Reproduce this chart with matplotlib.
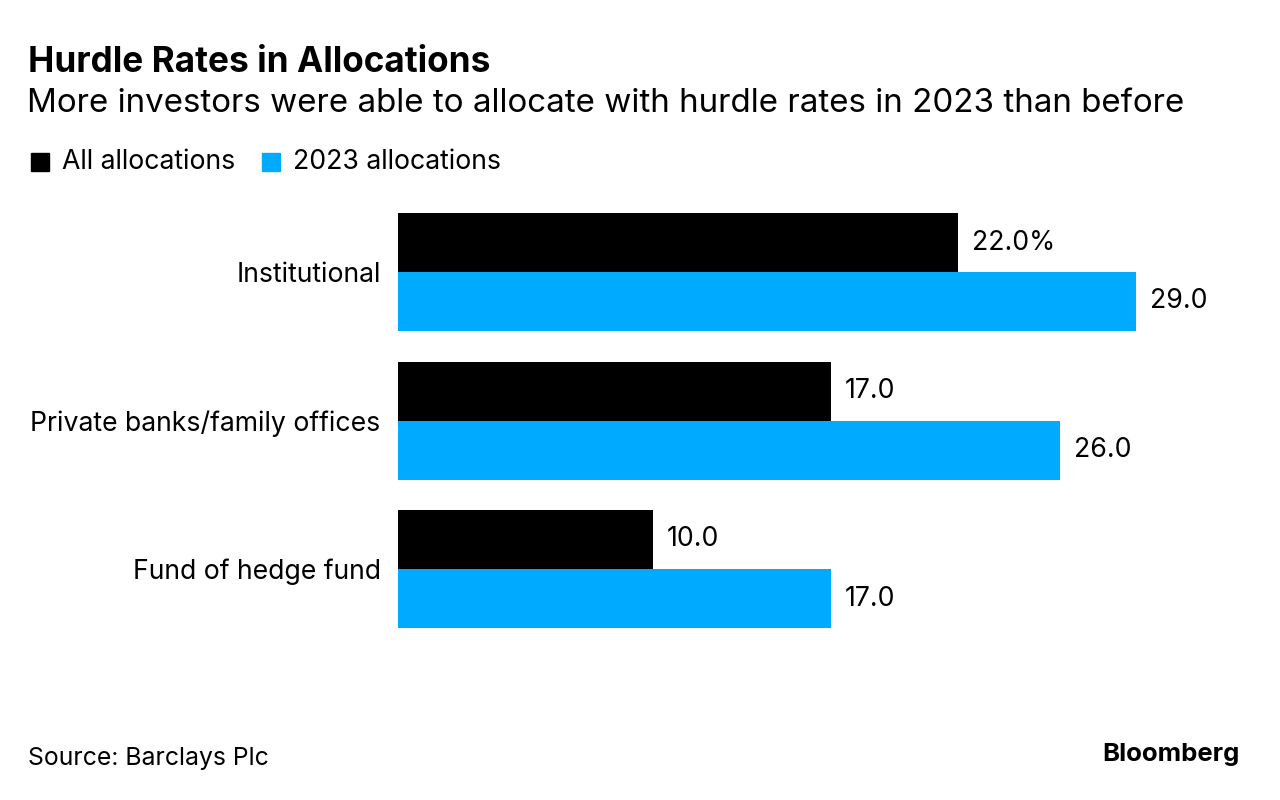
import matplotlib
matplotlib.use("Agg")
import matplotlib.pyplot as plt
from matplotlib.patches import Rectangle

FONT = ['Inter', 'DejaVu Sans']
plt.rcParams['font.family'] = FONT

categories = ["Institutional", "Private banks/family offices", "Fund of hedge fund"]
all_alloc = [22.0, 17.0, 10.0]
alloc_2023 = [29.0, 26.0, 17.0]
series_names = ["All allocations", "2023 allocations"]
colors = ["#000000", "#00aaff"]
title = "Hurdle Rates in Allocations"
subtitle = "More investors were able to allocate with hurdle rates in 2023 than before"
source = "Source: Barclays Plc"

W, H = 1280, 800
fig = plt.figure(figsize=(12.8, 8), dpi=100)
renderer = fig.canvas.get_renderer()


def fit_size(text, target_px, weight='normal'):
    t = fig.text(0, 0, text, fontsize=10, fontweight=weight)
    w = t.get_window_extent(renderer).width
    t.remove()
    return 10 * target_px / w


fs_title = fit_size(title, 462, 'bold')
fs_sub = fit_size(subtitle, 1164)
fs_body = fit_size("Private banks/family offices", 353)
fs_src = fit_size(source, 242)
fs_logo = fit_size("Bloomberg", 137, 'bold')

left_px, right_px = 398, 398 + 30 * (560 / 22)
top_px, bot_px = 190, 650
ax = fig.add_axes([left_px / W, 1 - bot_px / H, (right_px - left_px) / W, (bot_px - top_px) / H])
spacing = 148.5
ax.set_xlim(0, 30)
ax.set_ylim((bot_px - 272) / spacing, -(272 - top_px) / spacing)
bh = 59 / spacing

ys = list(range(len(categories)))
ax.barh([y - bh / 2 for y in ys], all_alloc, height=bh, color=colors[0])
ax.barh([y + bh / 2 for y in ys], alloc_2023, height=bh, color=colors[1])

off = 14 / (560 / 22)
for i, (a, b) in enumerate(zip(all_alloc, alloc_2023)):
    la = f"{a:.1f}%" if i == 0 else f"{a:.1f}"
    ax.text(a + off, i - bh / 2, la, va='center', ha='left', fontsize=fs_body, color='#000000')
    ax.text(b + off, i + bh / 2, f"{b:.1f}", va='center', ha='left', fontsize=fs_body, color='#000000')

ax.set_yticks(ys)
ax.set_yticklabels(categories, fontsize=fs_body)
ax.tick_params(axis='y', length=0, pad=12.5)
ax.set_xticks([])
for s in ax.spines.values():
    s.set_visible(False)

fig.text(28 / W, 1 - 62 / H, title, fontsize=fs_title, fontweight='bold', ha='left', va='center')
fig.text(27 / W, 1 - 104 / H, subtitle, fontsize=fs_sub, ha='left', va='center')

# legend
lx = 31
for name, c in zip(series_names, colors):
    fig.patches.append(Rectangle((lx / W, 1 - 171 / H), 18 / W, 18 / H, color=c,
                                 transform=fig.transFigure, figure=fig))
    t = fig.text((lx + 31) / W, 1 - 162 / H, name, fontsize=fs_body, ha='left', va='center')
    bb = t.get_window_extent(renderer)
    lx = bb.x1 + 27

fig.text(28 / W, 1 - 758 / H, source, fontsize=fs_src, ha='left', va='center')
fig.text(1240 / W, 1 - 755 / H, "Bloomberg", fontsize=fs_logo, fontweight='bold', ha='right', va='center')

fig.savefig("out.png", dpi=100, facecolor='white')
